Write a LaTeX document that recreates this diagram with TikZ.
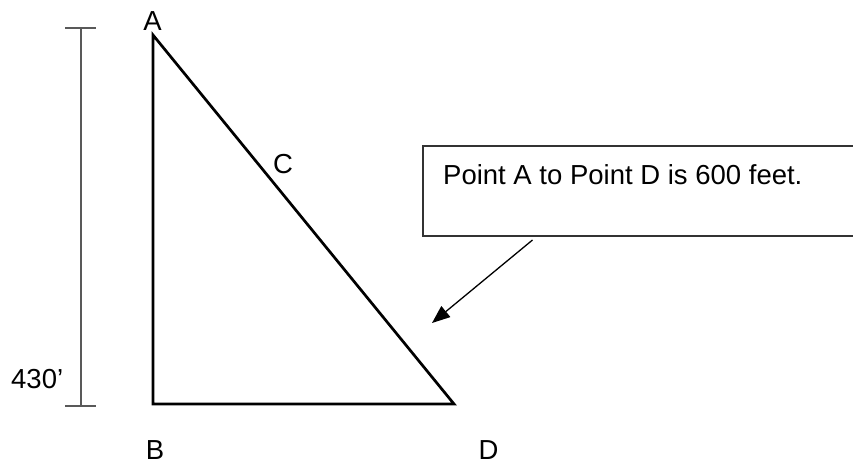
\documentclass[tikz,border=0pt]{standalone}
\usepackage{fontspec}
\setmainfont{Liberation Sans}
\usepackage{xcolor}
\definecolor{dimgray}{HTML}{595959}
\definecolor{boxgray}{HTML}{333333}
\usetikzlibrary{arrows.meta,positioning}
\tikzset{
  pointlabel/.style={anchor=base,inner sep=0pt,font=\fontsize{27.5}{33}\selectfont},
  triline/.style={line width=2.7pt,black,line join=miter},
  dimline/.style={line width=2pt,dimgray},
  notebox/.style={draw=boxgray,line width=1.8pt,anchor=north west,minimum width=470pt,minimum height=90pt,inner sep=0pt},
  notearrow/.style={-{Triangle[length=18pt,width=14pt]},line width=1.3pt,black}
}

\begin{document}
\begin{tikzpicture}[x=1pt,y=-1pt]
\useasboundingbox (0,0) rectangle (853,463);
\clip (0,0) rectangle (853,463);
% triangle
\coordinate (a) at (153,35);
\coordinate (b) at (153,404);
\coordinate (d) at (454,404);
\draw[triline] (a)--(b)--(d)--cycle;
\node[pointlabel] (la) at (152.5,30) {A};
\node[pointlabel] (lc) at (283,173) {C};
\node[pointlabel] (lb) at (155,459) {B};
\node[pointlabel] (ld) at (488.5,459) {D};
% dimension
\coordinate (dt) at (80.5,28);
\coordinate (db) at (80.5,406);
\draw[dimline] (dt)--(db);
\draw[dimline] ([xshift=-15.5pt]dt)--([xshift=15.5pt]dt);
\draw[dimline] ([xshift=-15.5pt]db)--([xshift=15.5pt]db);
\node[pointlabel,anchor=base west] (len) at (11,388) {430’};
% note
\node[notebox] (note) at (422,145) {};
\node[pointlabel,anchor=base west] (notetext) at (443,184) {Point A to Point D is 600 feet.};
\coordinate (from) at (532.5,240);
\coordinate (to) at (432,323);
\draw[notearrow] (from)--(to);
\end{tikzpicture}
\end{document}
